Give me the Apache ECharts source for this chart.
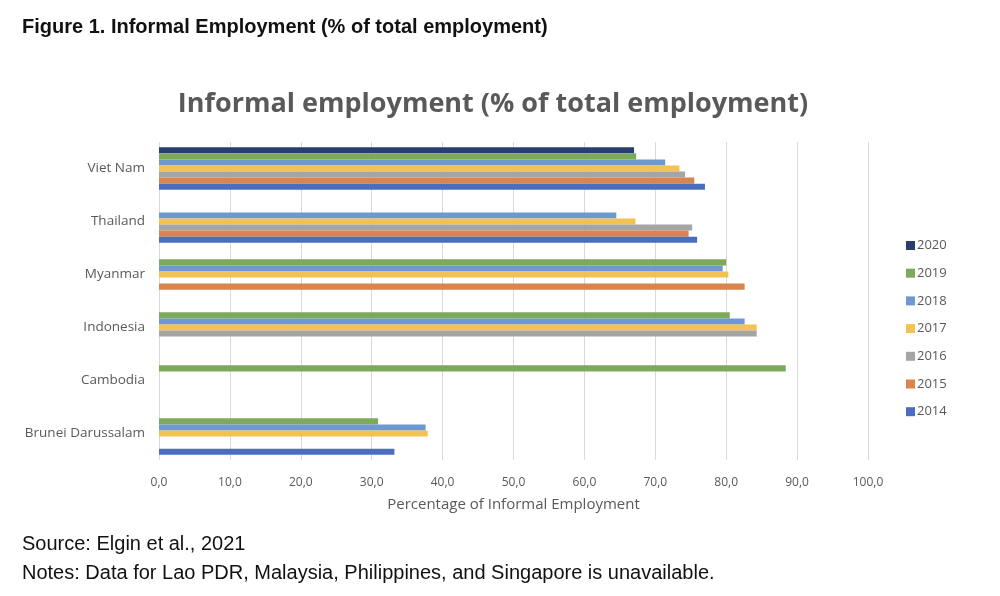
<!DOCTYPE html>
<html>
<head>
<meta charset="utf-8">
<script src="https://cdn.jsdelivr.net/npm/echarts@6/dist/echarts.min.js"></script>
<style>
html,body{margin:0;padding:0;background:#fff;}
#chart{width:1000px;height:596px;}
</style>
</head>
<body>
<div id="chart"></div>
<script>
// Categories (bottom to top as drawn by ECharts)
var countries = ['Brunei Darussalam', 'Cambodia', 'Indonesia', 'Myanmar', 'Thailand', 'Viet Nam'];
var years = ['2020', '2019', '2018', '2017', '2016', '2015', '2014'];
var legendOrder = ['2020', '2019', '2018', '2017', '2016', '2015', '2014'];
var xTicks = [0, 10, 20, 30, 40, 50, 60, 70, 80, 90, 100];

// Series values, same order as countries
var v2014 = [33.2, null, null, null, 75.9, 77.0];
var v2015 = [null, null, null, 82.6, 74.7, 75.5];
var v2016 = [null, null, 84.3, null, 75.2, 74.2];
var v2017 = [37.9, null, 84.3, 80.3, 67.2, 73.4];
var v2018 = [37.6, null, 82.6, 79.5, 64.5, 71.4];
var v2019 = [30.9, 88.4, 80.5, 80.0, null, 67.3];
var v2020 = [null, null, null, null, null, 67.0];

var values = [v2020, v2019, v2018, v2017, v2016, v2015, v2014];
var colors = ['#283f6e', '#7ca95a', '#6e98d0', '#f2c352', '#a5a5a5', '#d9854d', '#4a6dbf'];

var series = years.map(function (y, i) {
  return {
    name: y,
    type: 'bar',
    data: values[i],
    barGap: '0%',
    barCategoryGap: '20%',
    itemStyle: { color: colors[i] },
    emphasis: { disabled: true }
  };
});

var chart = echarts.init(document.getElementById('chart'));
chart.setOption({
  animation: false,
  backgroundColor: '#ffffff',
  title: [
    {
      text: 'Figure 1. Informal Employment (% of total employment)',
      left: 17, top: 12,
      textStyle: { fontFamily: 'Liberation Sans, Arial', fontSize: 20, fontWeight: 'bold', color: '#111' }
    },
    {
      text: 'Informal employment (% of total employment)',
      left: 488, top: 86, textAlign: 'center',
      textStyle: { fontFamily: 'Open Sans', fontSize: 27, fontWeight: 'bold', color: '#595959' }
    },
    {
      text: 'Source: Elgin et al., 2021',
      left: 17, top: 529,
      textStyle: { fontFamily: 'Liberation Sans, Arial', fontSize: 20, fontWeight: 'normal', color: '#111' }
    },
    {
      text: 'Notes: Data for Lao PDR, Malaysia, Philippines, and Singapore is unavailable.',
      left: 17, top: 558,
      textStyle: { fontFamily: 'Liberation Sans, Arial', fontSize: 20, fontWeight: 'normal', color: '#111' }
    }
  ],
  legend: {
    orient: 'vertical',
    left: 901, top: 234,
    itemWidth: 9, itemHeight: 9, itemGap: 14.7,
    icon: 'rect',
    data: legendOrder,
    textStyle: { fontFamily: 'Open Sans', fontSize: 13, color: '#595959', padding: [0, 0, 0, -3] }
  },
  grid: { left: 159, right: 132, top: 142, bottom: 136, containLabel: false },
  xAxis: {
    type: 'value',
    min: xTicks[0], max: xTicks[xTicks.length - 1], interval: 10,
    name: 'Percentage of Informal Employment',
    nameLocation: 'middle', nameGap: 37,
    nameTextStyle: { fontFamily: 'Open Sans', fontSize: 15, color: '#595959' },
    axisLine: { show: false },
    axisTick: { show: false },
    axisLabel: {
      margin: 17,
      fontFamily: 'Open Sans', fontSize: 12, color: '#595959',
      formatter: function (v) { return v.toFixed(1).replace('.', ','); }
    },
    splitLine: { show: true, lineStyle: { color: '#d9d9d9', width: 1 } }
  },
  yAxis: {
    type: 'category',
    data: countries,
    axisLine: { show: false },
    axisTick: { show: false },
    axisLabel: { margin: 14, fontFamily: 'Open Sans', fontSize: 13.5, color: '#595959' },
    splitLine: { show: false }
  },
  series: series
});
</script>
</body>
</html>
